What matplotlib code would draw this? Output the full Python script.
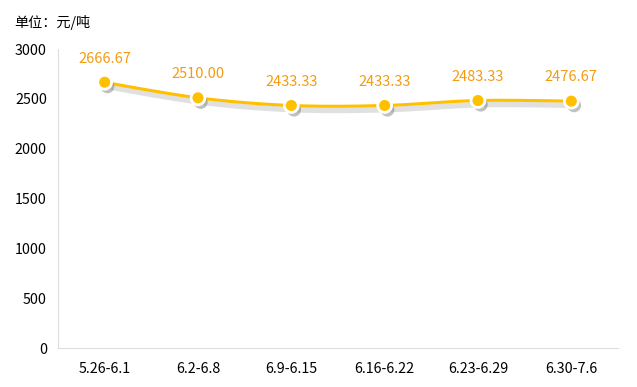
import numpy as np
import matplotlib
matplotlib.use("Agg")
import matplotlib.pyplot as plt
import matplotlib.patheffects as pe

plt.rcParams['font.family'] = ['Noto Sans CJK SC', 'DejaVu Sans']

categories = ["5.26-6.1", "6.2-6.8", "6.9-6.15", "6.16-6.22", "6.23-6.29", "6.30-7.6"]
values = [2666.67, 2510.00, 2433.33, 2433.33, 2483.33, 2476.67]
yticks = [0, 500, 1000, 1500, 2000, 2500, 3000]

W, H = 637, 387
fig = plt.figure(figsize=(W / 100, H / 100), dpi=100)
ax = fig.add_axes([58 / W, 1 - 348 / H, 560 / W, 299 / H])

x = np.arange(len(categories))
y = np.array(values)

# smooth curve (Catmull-Rom style)
def smooth(xs, ys, n=30, t=0.5):
    px, py = [], []
    m = len(xs)
    for i in range(m - 1):
        x0, y0 = xs[max(i - 1, 0)], ys[max(i - 1, 0)]
        x1, y1 = xs[i], ys[i]
        x2, y2 = xs[i + 1], ys[i + 1]
        x3, y3 = xs[min(i + 2, m - 1)], ys[min(i + 2, m - 1)]
        c1x = x1 + (x2 - x0) * t / 3 if i > 0 else x1
        c1y = y1 + (y2 - y0) * t / 3 if i > 0 else y1
        c2x = x2 - (x3 - x1) * t / 3 if i < m - 2 else x2
        c2y = y2 - (y3 - y1) * t / 3 if i < m - 2 else y2
        s = np.linspace(0, 1, n)
        bx = (1 - s) ** 3 * x1 + 3 * (1 - s) ** 2 * s * c1x + 3 * (1 - s) * s ** 2 * c2x + s ** 3 * x2
        by = (1 - s) ** 3 * y1 + 3 * (1 - s) ** 2 * s * c1y + 3 * (1 - s) * s ** 2 * c2y + s ** 3 * y2
        px.extend(bx); py.extend(by)
    return np.array(px), np.array(py)

sx, sy = smooth(x, y)
shadow = [pe.SimpleLineShadow(offset=(1.5, -3), shadow_color='#999999', alpha=0.3, linewidth=4), pe.Normal()]
ax.plot(sx, sy, color='#FFC000', lw=2.2, zorder=3, path_effects=shadow, solid_capstyle='round')
ax.plot(x, y, 'o', ms=10, markerfacecolor='#FFC000', markeredgecolor='white', markeredgewidth=2,
        zorder=4, path_effects=[pe.SimplePatchShadow(offset=(2, -3), shadow_rgbFace='#666666', alpha=0.4), pe.Normal()])

for xi, yi in zip(x, y):
    ax.annotate(f"{yi:.2f}", (xi, yi), xytext=(0, 12), textcoords='offset points',
                ha='center', va='bottom', color='#F39C12', fontsize=10.5)

ax.set_xlim(-0.5, len(categories) - 0.5)
ax.set_ylim(0, 3000)
ax.set_xticks(x)
ax.set_xticklabels(categories)
ax.set_yticks(yticks)
ax.tick_params(axis='both', length=0, labelsize=10.3, colors='#000000', pad=8)
ax.tick_params(axis='x', pad=10)
for s in ['top', 'right']:
    ax.spines[s].set_visible(False)
ax.spines['left'].set_color('#DDDDDD')
ax.spines['bottom'].set_color('#DDDDDD')

fig.text(14 / W, 1 - 22 / H, "单位：元/吨", fontsize=10.2, ha='left', va='center', color='#000000')

fig.savefig("out.png", dpi=100)
